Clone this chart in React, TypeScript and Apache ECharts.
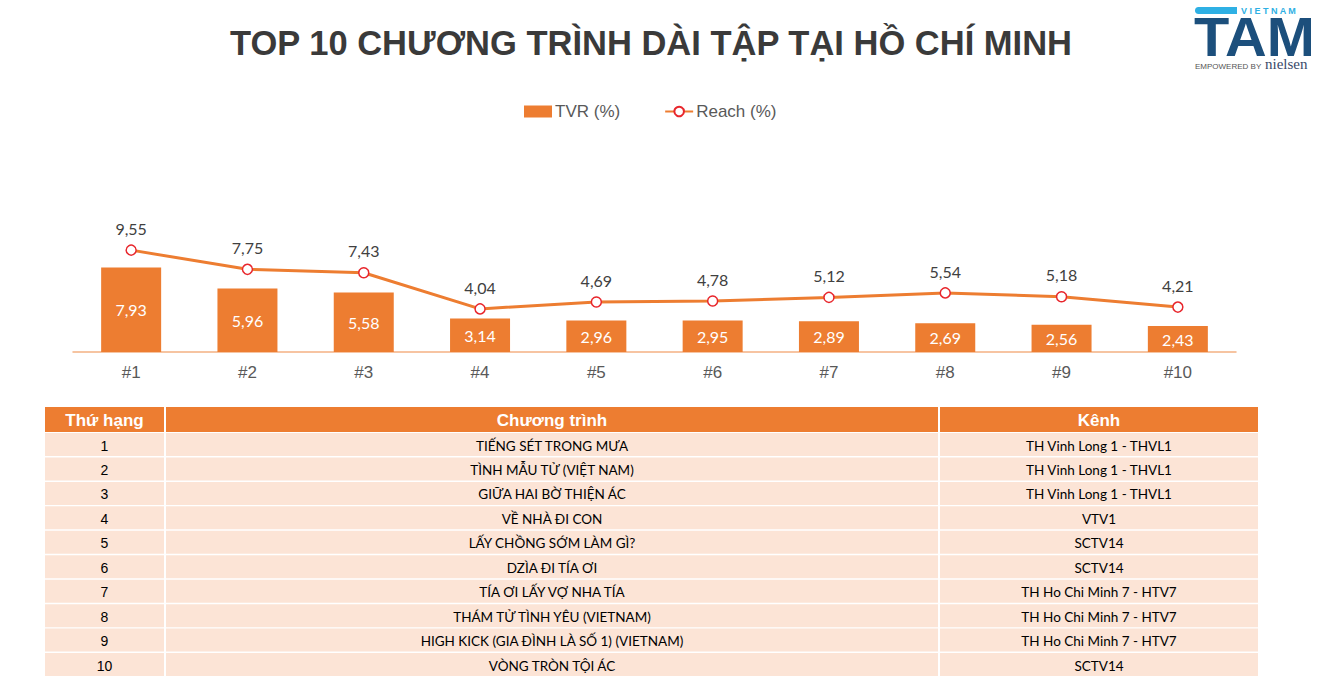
import React, { useEffect, useRef } from "react";
import * as echarts from "echarts";

const titleText = "TOP 10 CHƯƠNG TRÌNH DÀI TẬP TẠI HỒ CHÍ MINH";
const categories = ["#1", "#2", "#3", "#4", "#5", "#6", "#7", "#8", "#9", "#10"];
const tvrValues = [7.93, 5.96, 5.58, 3.14, 2.96, 2.95, 2.89, 2.69, 2.56, 2.43];
const reachValues = [9.55, 7.75, 7.43, 4.04, 4.69, 4.78, 5.12, 5.54, 5.18, 4.21];
const seriesNames = ["TVR (%)", "Reach (%)"];

const tableHeaders = ["Thứ hạng", "Chương trình", "Kênh"];
const ranks = ["1", "2", "3", "4", "5", "6", "7", "8", "9", "10"];
const programs = [
  "TIẾNG SÉT TRONG MƯA",
  "TÌNH MẪU TỬ (VIỆT NAM)",
  "GIỮA HAI BỜ THIỆN ÁC",
  "VỀ NHÀ ĐI CON",
  "LẤY CHỒNG SỚM LÀM GÌ?",
  "DZÌA ĐI TÍA ƠI",
  "TÍA ƠI LẤY VỢ NHA TÍA",
  "THÁM TỬ TÌNH YÊU (VIETNAM)",
  "HIGH KICK (GIA ĐÌNH LÀ SỐ 1) (VIETNAM)",
  "VÒNG TRÒN TỘI ÁC",
];
const channels = [
  "TH Vinh Long 1 - THVL1",
  "TH Vinh Long 1 - THVL1",
  "TH Vinh Long 1 - THVL1",
  "VTV1",
  "SCTV14",
  "SCTV14",
  "TH Ho Chi Minh 7 - HTV7",
  "TH Ho Chi Minh 7 - HTV7",
  "TH Ho Chi Minh 7 - HTV7",
  "SCTV14",
];

const ORANGE = "#ED7D31";
const fmt = (v: number) => v.toFixed(2).replace(".", ",");

function buildTable(): any[] {
  const els: any[] = [];
  const colX = [45, 166, 940, 1258];
  const headerTop = 407;
  const headerH = 25;
  const rowTop = 433;
  const rowPitch = 24.45;
  const rowH = 23;
  for (let c = 0; c < 3; c++) {
    const x0 = colX[c];
    const x1 = colX[c + 1] - (c < 2 ? 2 : 0);
    els.push({
      type: "rect",
      shape: { x: x0, y: headerTop, width: x1 - x0, height: headerH },
      style: { fill: ORANGE },
      silent: true,
    });
    els.push({
      type: "text",
      x: (x0 + x1) / 2,
      y: headerTop + headerH / 2 + 1,
      style: {
        text: tableHeaders[c],
        fill: "#ffffff",
        font: "bold 17px 'Liberation Sans', Arial, sans-serif",
        align: "center",
        verticalAlign: "middle",
      },
      silent: true,
    });
  }
  const cols = [ranks, programs, channels];
  for (let r = 0; r < ranks.length; r++) {
    const y = rowTop + r * rowPitch;
    for (let c = 0; c < 3; c++) {
      const x0 = colX[c];
      const x1 = colX[c + 1] - (c < 2 ? 2 : 0);
      els.push({
        type: "rect",
        shape: { x: x0, y, width: x1 - x0, height: rowH },
        style: { fill: "#FCE4D6" },
        silent: true,
      });
      els.push({
        type: "text",
        x: (x0 + x1) / 2,
        y: y + rowH / 2 + 1,
        style: {
          text: cols[c][r],
          fill: "#000000",
          font:
            c === 0
              ? "14px 'Liberation Sans', Arial, sans-serif"
              : "13.5px Lato, 'Open Sans', sans-serif",
          align: "center",
          verticalAlign: "middle",
        },
        silent: true,
      });
    }
  }
  return els;
}

function buildLogo(): any[] {
  const dark = "#1C4F7C";
  const cyan = "#2EB0E4";
  return [
    {
      type: "rect",
      shape: { x: 1195, y: 7, width: 42, height: 7, r: [3.5, 0, 0, 3.5] },
      style: { fill: cyan },
      silent: true,
    },
    {
      type: "text",
      x: 1241,
      y: 11,
      style: {
        text: "V I E T N A M",
        fill: cyan,
        font: "bold 9px 'Liberation Sans', Arial, sans-serif",
        verticalAlign: "middle",
        lineHeight: 8,
      },
      silent: true,
    },
    {
      type: "text",
      x: 1194,
      y: 37,
      scaleX: 1.05,
      style: {
        text: "TAM",
        fill: dark,
        font: "bold 55px 'Liberation Sans', Arial, sans-serif",
        verticalAlign: "middle",
        lineHeight: 36,
      },
      silent: true,
    },
    {
      type: "text",
      x: 1195,
      y: 66,
      style: {
        text: "EMPOWERED BY",
        fill: "#555555",
        font: "8px 'Liberation Sans Narrow', 'Liberation Sans', Arial, sans-serif",
        verticalAlign: "middle",
        lineHeight: 7,
      },
      silent: true,
    },
    {
      type: "text",
      x: 1265,
      y: 64,
      style: {
        text: "nielsen",
        fill: "#3A4A6A",
        font: "15px 'Liberation Serif', 'DejaVu Serif', serif",
        verticalAlign: "middle",
        lineHeight: 12,
      },
      silent: true,
    },
  ];
}

export default function App() {
  const ref = useRef<HTMLDivElement>(null);
  useEffect(() => {
    if (!ref.current) return;
    const chart = echarts.init(ref.current, undefined, { renderer: "svg" });
    chart.setOption({
      animation: false,
      backgroundColor: "#ffffff",
      title: {
        text: titleText,
        left: 646,
        textAlign: "center",
        top: 20,
        textStyle: {
          fontFamily: "'Liberation Sans', Arial, sans-serif",
          fontWeight: "bold",
          fontSize: 34.5,
          color: "#3A3A3A",
        },
      },
      legend: {
        top: 98,
        left: 519,
        itemGap: 44,
        itemWidth: 28,
        itemHeight: 12,
        textStyle: {
          fontFamily: "'Liberation Sans', Arial, sans-serif",
          fontSize: 17,
          color: "#595959",
          padding: [0, 0, 0, -2],
        },
        data: [
          { name: seriesNames[0], icon: "rect" },
          { name: seriesNames[1] },
        ],
      },
      grid: { left: 73, right: 98, top: 224, bottom: 344, containLabel: false },
      xAxis: {
        type: "category",
        data: categories,
        axisLine: { lineStyle: { color: "#F4B183", width: 1.5 } },
        axisTick: { show: false },
        axisLabel: {
          fontFamily: "'Liberation Sans', Arial, sans-serif",
          fontSize: 17,
          color: "#595959",
          margin: 12,
        },
      },
      yAxis: {
        type: "value",
        min: 0,
        max: 12,
        show: false,
        splitLine: { show: false },
      },
      series: [
        {
          name: seriesNames[0],
          type: "bar",
          data: tvrValues,
          barWidth: 60,
          itemStyle: { color: ORANGE },
          label: {
            show: true,
            position: "inside",
            color: "#ffffff",
            fontFamily: "Lato, 'Open Sans', sans-serif",
            fontSize: 16,
            formatter: (p: any) => fmt(p.value),
          },
        },
        {
          name: seriesNames[1],
          type: "line",
          data: reachValues,
          symbol: "circle",
          symbolSize: 10,
          lineStyle: { color: ORANGE, width: 3 },
          itemStyle: { color: "#ffffff", borderColor: "#E8262C", borderWidth: 1.5 },
          label: {
            show: true,
            position: "top",
            distance: 8,
            color: "#404040",
            fontFamily: "Lato, 'Open Sans', sans-serif",
            fontSize: 16,
            formatter: (p: any) => fmt(p.value),
          },
          z: 3,
        },
      ],
      graphic: [...buildTable(), ...buildLogo()],
    });
    return () => chart.dispose();
  }, []);
  return (
    <div
      ref={ref}
      style={{ position: "fixed", left: 0, top: 0, width: 1334, height: 696 }}
    />
  );
}
